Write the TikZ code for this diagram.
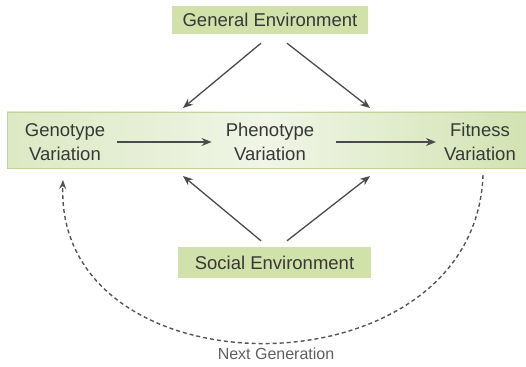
\documentclass[tikz,border=0pt]{standalone}
\usepackage{fontspec}
\setmainfont{Liberation Sans}
\usetikzlibrary{arrows.meta}
\definecolor{envgreen}{RGB}{208,226,170}
\definecolor{bandleft}{RGB}{220,233,196}
\definecolor{bandmid}{RGB}{240,245,230}
\definecolor{bandright}{RGB}{210,227,178}
\definecolor{bandline}{RGB}{192,211,152}
\definecolor{inkgray}{RGB}{55,55,55}
\tikzset{
    envbox/.style={fill=envgreen,text=inkgray,inner sep=0pt,minimum height=28pt},
    varnode/.style={text=inkgray,align=center,inner sep=0pt},
    genlabel/.style={text=inkgray!80,inner sep=0pt,font=\fontsize{16}{16}\selectfont},
    arr/.style={draw=inkgray!90,line width=1.3pt,-{Stealth[length=10pt,width=8pt]}},
    genarr/.style={draw=inkgray!85,line width=1.4pt,dash pattern=on 4pt off 3pt,-{Stealth[length=9pt,width=7pt]}}
}
\begin{document}
\begin{tikzpicture}[x=1pt,y=-1pt,font=\fontsize{18.5}{24}\selectfont]
    \useasboundingbox (0,0) rectangle (526,366);
    \shade[left color=bandleft,right color=bandright,middle color=bandmid,draw=bandline,line width=0.8pt] (7,112) rectangle (526,168);
    \node[envbox,minimum width=196pt] (general) at (270,20) {General Environment};
    \node[envbox,minimum width=193pt,minimum height=31pt] (social) at (274.5,262.5) {Social Environment};
    \node[varnode] (geno) at (65,142) {Genotype\\Variation};
    \node[varnode] (pheno) at (270,142) {Phenotype\\Variation};
    \node[varnode] (fit) at (480,142) {Fitness\\Variation};
    \node[genlabel] (nextgen) at (276,354) {Next Generation};
    \coordinate (upleft) at (183,108);
    \coordinate (upright) at (370,108);
    \coordinate (lowleft) at (183,176);
    \coordinate (lowright) at (370,176);
    \draw[arr] ([xshift=12pt]geno.east) -- ([xshift=-14pt]pheno.west);
    \draw[arr] ([xshift=22pt]pheno.east) -- ([xshift=-8pt]fit.west);
    \draw[arr] ([shift={(-9,9)}]general.south) -- (upleft);
    \draw[arr] ([shift={(17,9)}]general.south) -- (upright);
    \draw[arr] ([shift={(-13.5,-6)}]social.north) -- (lowleft);
    \draw[arr] ([shift={(12.5,-6)}]social.north) -- (lowright);
    \draw[genarr] ([shift={(3,33)}]fit.center) .. controls (475,398) and (55,398) .. ([shift={(-2,38)}]geno.center);
\end{tikzpicture}
\end{document}
